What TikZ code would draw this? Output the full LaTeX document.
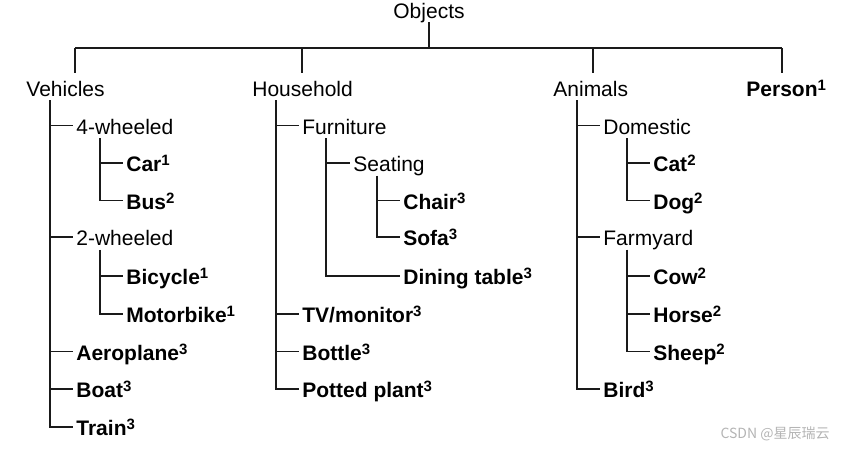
\documentclass[tikz,border=0pt]{standalone}
\usepackage{fontspec}
\setmainfont{Liberation Sans}
\newfontfamily\cjkfont{Noto Sans CJK SC}
\usetikzlibrary{positioning}
\definecolor{treeline}{HTML}{1A1A1A}
\definecolor{markgray}{HTML}{B4B4B4}
\newcommand{\clsidx}[1]{\raisebox{0.5ex}{\fontsize{7.5}{7.5}\selectfont\bfseries #1}}
\tikzset{
  grouplabel/.style={
    anchor=west,
    inner xsep=1.5pt,
    inner ysep=0pt,
    text height=8.5pt,
    text depth=0pt,
    font=\fontsize{10.5}{12}\selectfont
  },
  classlabel/.style={
    grouplabel,
    font=\fontsize{10.5}{12}\selectfont\bfseries
  },
  branch/.style={
    draw=treeline,
    line width=0.9pt
  },
  spine/.style={
    xshift=13.5pt,
    yshift=-2pt
  }
}

\begin{document}
\begin{tikzpicture}[x=0.5pt,y=-0.5pt]
\useasboundingbox (0,0) rectangle (845,455);

% root and top bar
\node[grouplabel, anchor=base] (objects) at (429,18.5) {Objects};
\coordinate (barV) at (75,48);
\coordinate (barH) at (302,48);
\coordinate (barA) at (593,48);
\coordinate (barP) at (782,48);

% first level
\node[grouplabel] (vehicles) at (23,87.5) {Vehicles};
\node[grouplabel] (household) at (249,87.5) {Household};
\node[grouplabel] (animals) at (550,87.5) {Animals};
\node[classlabel] (person) at (743,87.5) {Person\clsidx{1}};

% vehicles
\node[grouplabel] (fourw) at (73,125.5) {4-wheeled};
\node[classlabel] (car) at (123,163) {Car\clsidx{1}};
\node[classlabel] (bus) at (123,200.5) {Bus\clsidx{2}};
\node[grouplabel] (twow) at (73,237) {2-wheeled};
\node[classlabel] (bicycle) at (123,276) {Bicycle\clsidx{1}};
\node[classlabel] (motorbike) at (123,314) {Motorbike\clsidx{1}};
\node[classlabel] (aeroplane) at (73,351.5) {Aeroplane\clsidx{3}};
\node[classlabel] (boat) at (73,389) {Boat\clsidx{3}};
\node[classlabel] (train) at (73,427) {Train\clsidx{3}};

% household
\node[grouplabel] (furniture) at (299,125.5) {Furniture};
\node[grouplabel] (seating) at (350,163) {Seating};
\node[classlabel] (chair) at (400,200.5) {Chair\clsidx{3}};
\node[classlabel] (sofa) at (400,237) {Sofa\clsidx{3}};
\node[classlabel] (dining) at (400,276) {Dining table\clsidx{3}};
\node[classlabel] (tv) at (299,314) {TV/monitor\clsidx{3}};
\node[classlabel] (bottle) at (299,351.5) {Bottle\clsidx{3}};
\node[classlabel] (plant) at (299,389) {Potted plant\clsidx{3}};

% animals
\node[grouplabel] (domestic) at (600,125.5) {Domestic};
\node[classlabel] (cat) at (650,163) {Cat\clsidx{2}};
\node[classlabel] (dog) at (650,200.5) {Dog\clsidx{2}};
\node[grouplabel] (farmyard) at (600,237) {Farmyard};
\node[classlabel] (cow) at (650,276) {Cow\clsidx{2}};
\node[classlabel] (horse) at (650,314) {Horse\clsidx{2}};
\node[classlabel] (sheep) at (650,351.5) {Sheep\clsidx{2}};
\node[classlabel] (bird) at (600,389) {Bird\clsidx{3}};

% connectors
\draw[branch] ([yshift=-1.75pt]objects.south) -- (objects.south |- barV);
\draw[branch] (barV) -- (barP);
\foreach \b in {barV,barH,barA,barP}
  \draw[branch] (\b) -- ++(0,25);
\foreach \c in {fourw,twow,aeroplane,boat,train}
  \draw[branch] ([spine]vehicles.south west) |- (\c.west);
\foreach \c in {car,bus}
  \draw[branch] ([spine]fourw.south west) |- (\c.west);
\foreach \c in {bicycle,motorbike}
  \draw[branch] ([spine]twow.south west) |- (\c.west);
\foreach \c in {furniture,tv,bottle,plant}
  \draw[branch] ([spine]household.south west) |- (\c.west);
\foreach \c in {seating,dining}
  \draw[branch] ([spine]furniture.south west) |- (\c.west);
\foreach \c in {chair,sofa}
  \draw[branch] ([spine]seating.south west) |- (\c.west);
\foreach \c in {domestic,farmyard,bird}
  \draw[branch] ([spine]animals.south west) |- (\c.west);
\foreach \c in {cat,dog}
  \draw[branch] ([spine]domestic.south west) |- (\c.west);
\foreach \c in {cow,horse,sheep}
  \draw[branch] ([spine]farmyard.south west) |- (\c.west);

% watermark
\node[anchor=east, inner sep=0pt, text=markgray, font=\cjkfont\fontsize{7}{8}\selectfont] (mark) at (830,434) {CSDN @星辰瑞云};
\end{tikzpicture}
\end{document}
